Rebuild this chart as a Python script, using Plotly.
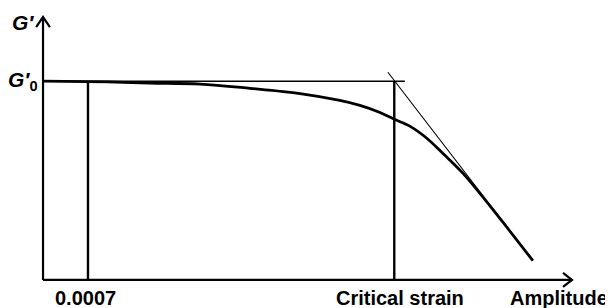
import plotly.graph_objects as go

# Schematic data (arbitrary units: amplitude on x, G' on y)
g0_level = 75.6
low_strain_x = 8.5          # 0.0007
critical_x = 66.4           # critical strain
x_axis_end = 100.0
y_axis_end = 100.0

curve_x = [0.0, 12.1, 20.2, 29.7, 39.1, 48.6, 56.1, 59.9, 63.7, 66.4, 69.4, 72.6, 75.6, 79.4, 86.4, 92.6]
curve_y = [75.6, 75.3, 74.9, 74.5, 72.9, 70.9, 68.3, 66.4, 63.7, 61.1, 58.4, 53.8, 48.1, 40.5, 23.3, 7.3]

tangent_x = [65.2, 92.6]
tangent_y = [79.0, 7.3]

plateau_x = [0.0, 68.4]

tick_labels = ["0.0007", "Critical strain", "Amplitude"]
label_x = [8.0, 67.4, 97.45]

fig = go.Figure()

# axes
fig.add_trace(go.Scatter(x=[0, x_axis_end], y=[0, 0], mode="lines",
                         line=dict(color="black", width=2.2), hoverinfo="skip"))
fig.add_trace(go.Scatter(x=[0, 0], y=[0, y_axis_end], mode="lines",
                         line=dict(color="black", width=2.2), hoverinfo="skip"))
# arrow chevrons
fig.add_trace(go.Scatter(x=[x_axis_end - 1.7, x_axis_end, x_axis_end - 1.7],
                         y=[2.7, 0, -2.7], mode="lines",
                         line=dict(color="black", width=2.2), hoverinfo="skip"))
fig.add_trace(go.Scatter(x=[-1.3, 0, 1.3],
                         y=[y_axis_end - 3.8, y_axis_end, y_axis_end - 3.8], mode="lines",
                         line=dict(color="black", width=2.2), hoverinfo="skip"))

# plateau line G0'
fig.add_trace(go.Scatter(x=plateau_x, y=[g0_level, g0_level], mode="lines",
                         line=dict(color="black", width=1.5), hoverinfo="skip"))
# vertical lines
fig.add_trace(go.Scatter(x=[low_strain_x, low_strain_x], y=[0, g0_level], mode="lines",
                         line=dict(color="black", width=2.4), hoverinfo="skip"))
fig.add_trace(go.Scatter(x=[critical_x, critical_x], y=[0, g0_level], mode="lines",
                         line=dict(color="black", width=2.4), hoverinfo="skip"))
# tangent
fig.add_trace(go.Scatter(x=tangent_x, y=tangent_y, mode="lines",
                         line=dict(color="black", width=1.1), hoverinfo="skip"))
# curve
fig.add_trace(go.Scatter(x=curve_x, y=curve_y, mode="lines", line_shape="spline",
                         line=dict(color="black", width=2.8), hoverinfo="skip"))

font = dict(family="Liberation Sans, Arial", size=20, color="black")
gfont = dict(family="Liberation Sans, Arial", size=21, color="black")
annotations = [
    dict(x=label_x[i], y=-7.0, text="<b>" + tick_labels[i] + "</b>",
         xanchor="center", yanchor="middle") for i in range(3)
] + [
    dict(x=-1.4, y=97.9, text="<b><i>G′</i></b>", xanchor="right", yanchor="middle", font=gfont),
    dict(x=-0.6, y=g0_level, text="<b><i>G′</i></b><sub><b>0</b></sub>", xanchor="right",
         yanchor="middle", font=gfont),
]
for a in annotations:
    a.setdefault("font", font)
    a["showarrow"] = False
    a["xref"] = "x"
    a["yref"] = "y"
fig.update_layout(annotations=annotations)

fig.update_layout(
    width=613, height=308,
    margin=dict(l=0, r=0, t=0, b=0),
    paper_bgcolor="white", plot_bgcolor="white",
    showlegend=False,
    xaxis=dict(range=[-6.62, 109.26], visible=False, fixedrange=True),
    yaxis=dict(range=[-13.74, 103.44], visible=False, fixedrange=True),
)

fig.write_html("out.html")
